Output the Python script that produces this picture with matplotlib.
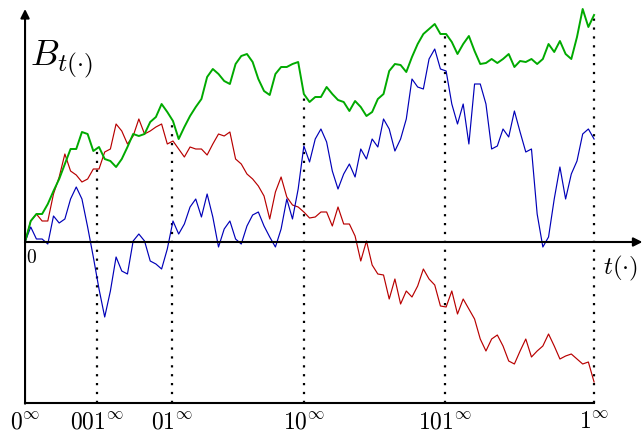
import numpy as np
import matplotlib
matplotlib.use("Agg")
import matplotlib.pyplot as plt

plt.rcParams['mathtext.fontset'] = 'cm'

# three sample paths (101 points each, t from 0 to 1)
green = [0, 0.21, 0.28, 0.28, 0.38, 0.51, 0.63, 0.78, 0.93, 0.93,
         1.10, 1.08, 0.91, 0.95, 0.83, 0.81, 0.75, 0.83, 0.95, 1.08,
         1.06, 1.08, 1.20, 1.25, 1.38, 1.30, 1.21, 1.03, 1.15, 1.26,
         1.35, 1.43, 1.65, 1.73, 1.68, 1.61, 1.58, 1.78, 1.86, 1.88,
         1.80, 1.63, 1.51, 1.47, 1.68, 1.75, 1.75, 1.78, 1.80, 1.48,
         1.40, 1.45, 1.45, 1.55, 1.48, 1.42, 1.40, 1.31, 1.41, 1.35,
         1.26, 1.30, 1.43, 1.48, 1.71, 1.78, 1.77, 1.70, 1.85, 1.98,
         2.08, 2.13, 2.18, 2.08, 2.08, 2.00, 1.88, 1.98, 2.06, 1.91,
         1.78, 1.79, 1.83, 1.79, 1.83, 1.88, 1.75, 1.81, 1.80, 1.83,
         1.78, 1.83, 1.98, 1.90, 2.01, 1.88, 1.83, 2.05, 2.33, 2.15,
         2.27]

blue = [0, 0.15, 0.03, 0.03, -0.02, 0.26, 0.19, 0.23, 0.43, 0.55,
        0.43, 0.15, -0.15, -0.47, -0.75, -0.49, -0.15, -0.29, -0.32, 0.01,
        0.08, 0.01, -0.19, -0.22, -0.27, -0.07, 0.21, 0.08, 0.18, 0.35,
        0.43, 0.25, 0.48, 0.25, -0.05, 0.13, 0.21, 0.03, -0.02, 0.16,
        0.27, 0.30, 0.16, 0.05, -0.05, 0.13, 0.43, 0.23, 0.53, 0.96,
        0.80, 1.03, 1.13, 1.00, 0.71, 0.53, 0.68, 0.78, 0.65, 0.93,
        0.83, 1.03, 0.95, 1.23, 1.13, 0.91, 1.03, 1.23, 1.63, 1.55,
        1.53, 1.83, 1.93, 1.73, 1.71, 1.38, 1.18, 1.38, 0.98, 1.58,
        1.58, 1.38, 0.93, 0.96, 1.13, 1.05, 1.31, 1.10, 0.90, 0.93,
        0.28, -0.05, 0.05, 0.43, 0.75, 0.43, 0.68, 0.81, 1.08, 1.13,
        1.03]

red = [0, 0.21, 0.28, 0.21, 0.21, 0.48, 0.65, 0.88, 0.71, 0.67,
       0.60, 0.63, 0.73, 0.73, 0.90, 0.93, 1.18, 1.11, 0.98, 1.06,
       1.23, 1.08, 1.11, 1.15, 1.18, 0.98, 1.01, 0.93, 0.85, 0.95,
       0.93, 0.93, 0.87, 0.98, 1.08, 1.06, 1.10, 0.83, 0.78, 0.68,
       0.63, 0.56, 0.46, 0.23, 0.50, 0.65, 0.45, 0.37, 0.35, 0.30,
       0.24, 0.25, 0.30, 0.30, 0.16, 0.35, 0.18, 0.18, 0.06, -0.19,
       0.01, -0.23, -0.32, -0.33, -0.57, -0.37, -0.62, -0.49, -0.55, -0.44,
       -0.27, -0.37, -0.43, -0.64, -0.65, -0.49, -0.72, -0.57, -0.67, -0.77,
       -0.97, -1.09, -0.97, -0.93, -1.04, -1.19, -1.22, -1.09, -0.97, -1.15,
       -1.09, -1.04, -0.92, -1.04, -1.17, -1.14, -1.12, -1.17, -1.22, -1.20,
       -1.40]

tick_pos = [0.0, 0.126, 0.258, 0.490, 0.738, 1.0]
tick_lab = [r'$0^\infty$', r'$001^\infty$', r'$01^\infty$',
            r'$10^\infty$', r'$101^\infty$', r'$1^\infty$']

fig = plt.figure(figsize=(6.43, 4.35), dpi=100)
ax = fig.add_axes([0, 0, 1, 1])
ax.set_xlim(-0.044, 1.086)
ax.set_ylim(-1.92, 2.43)
ax.axis('off')

bottom = -1.61

for s, c, lw in [(red, '#b80000', 0.85), (blue, '#0000b8', 0.85), (green, '#00aa00', 1.4)]:
    t = np.linspace(0, 1, len(s))
    ax.plot(t, s, color=c, lw=lw, zorder=3)

# dotted lines up to the top path
tg = np.linspace(0, 1, len(green))
for p in tick_pos[1:]:
    top = np.interp(p, tg, green)
    ax.plot([p, p], [bottom, top], color='k', lw=1.6, ls=(0, (1, 3)), zorder=2)

# axes
ax.plot([0, 1], [bottom, bottom], color='k', lw=1.5, zorder=4)
ax.annotate('', xy=(0, 2.33), xytext=(0, bottom - 0.007),
            arrowprops=dict(arrowstyle='-|>', lw=1.5, color='k', mutation_scale=13,
                            shrinkA=0, shrinkB=0), zorder=4)
ax.annotate('', xy=(1.085, 0), xytext=(0, 0),
            arrowprops=dict(arrowstyle='-|>', lw=1.5, color='k', mutation_scale=13,
                            shrinkA=0, shrinkB=0), zorder=4)

for p, lab in zip(tick_pos, tick_lab):
    ax.text(p, -1.905, lab, ha='center', va='bottom', fontsize=17)

ax.text(0.008, 1.78, r'$B_{t(\cdot)}$', ha='left', va='baseline', fontsize=26)
ax.text(1.047, -0.25, r'$t(\cdot)$', ha='center', va='center', fontsize=18)
ax.text(0.012, -0.15, r'$0$', ha='center', va='center', fontsize=14)

fig.savefig('out.png', dpi=100)
